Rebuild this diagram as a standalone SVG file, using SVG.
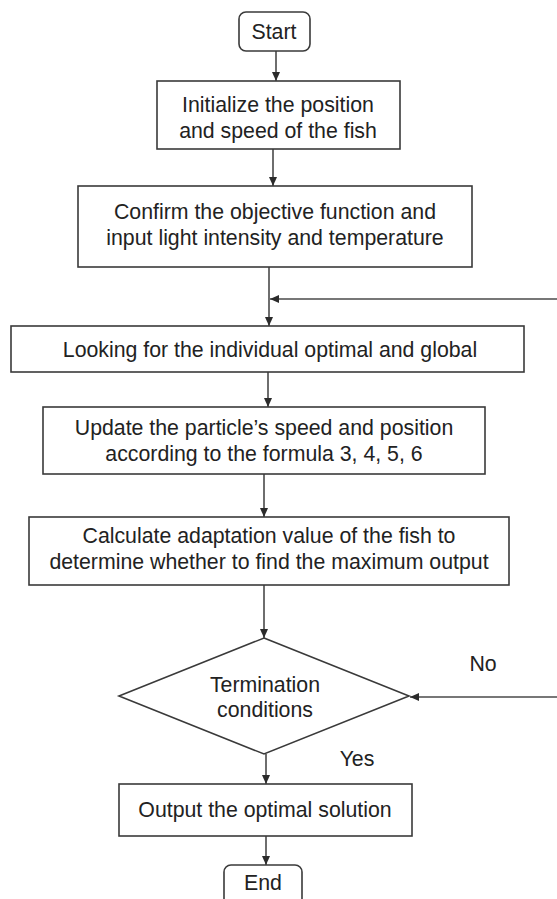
<svg xmlns="http://www.w3.org/2000/svg" width="557" height="899" viewBox="0 0 557 899">
<defs>
<marker id="ah" markerWidth="10" markerHeight="10" refX="9" refY="4" orient="auto" markerUnits="userSpaceOnUse">
<path d="M0,0 L9,4 L0,8 Z" fill="#2b2b2b"/>
</marker>
<style>
.box{fill:#fff;stroke:#3a3a3a;stroke-width:1.6}
.t{font-family:"Liberation Sans",Arial,sans-serif;font-size:21.3px;fill:#222;text-anchor:middle}
.c{stroke:#4a4a4a;stroke-width:1.6;fill:none;marker-end:url(#ah)}
</style>
</defs>
<rect width="557" height="899" fill="#fff"/>
<g id="connectors">
<line class="c" x1="276" y1="51" x2="276" y2="81"/>
<line class="c" x1="273" y1="149" x2="273" y2="186"/>
<line class="c" x1="269" y1="267" x2="269" y2="326"/>
<line class="c" x1="557" y1="299" x2="270" y2="299"/>
<line class="c" x1="268" y1="372" x2="268" y2="407"/>
<line class="c" x1="264" y1="474" x2="264" y2="517"/>
<line class="c" x1="264" y1="585" x2="264" y2="638"/>
<line class="c" x1="557" y1="697" x2="410" y2="697"/>
<line class="c" x1="266" y1="754" x2="266" y2="784"/>
<line class="c" x1="266" y1="836" x2="266" y2="865"/>
</g>
<g id="start">
<rect class="box" x="239" y="12" width="71" height="39" rx="7"/>
<text class="t" x="274" y="39">Start</text>
</g>
<g id="init">
<rect class="box" x="157" y="81" width="243" height="68"/>
<text class="t" x="278" y="112">Initialize the position</text>
<text class="t" x="278" y="138">and speed of the fish</text>
</g>
<g id="confirm">
<rect class="box" x="78" y="186" width="394" height="81"/>
<text class="t" x="275" y="219">Confirm the objective function and</text>
<text class="t" x="275" y="245">input light intensity and temperature</text>
</g>
<g id="looking">
<rect class="box" x="11" y="326" width="513" height="46"/>
<text class="t" x="270" y="357">Looking for the individual optimal and global</text>
</g>
<g id="update">
<rect class="box" x="43" y="407" width="442" height="67"/>
<text class="t" x="264" y="435">Update the particle’s speed and position</text>
<text class="t" x="264" y="461">according to the formula 3, 4, 5, 6</text>
</g>
<g id="calculate">
<rect class="box" x="29" y="517" width="480" height="68"/>
<text class="t" x="269" y="543">Calculate adaptation value of the fish to</text>
<text class="t" x="269" y="569">determine whether to find the maximum output</text>
</g>
<g id="termination">
<polygon class="box" points="264,638 409,696 264,754 119,696"/>
<text class="t" x="265" y="692">Termination</text>
<text class="t" x="265" y="717">conditions</text>
</g>
<g id="labels">
<text class="t" x="483" y="671">No</text>
<text class="t" x="357" y="766">Yes</text>
</g>
<g id="output">
<rect class="box" x="119" y="784" width="293" height="52"/>
<text class="t" x="265" y="817">Output the optimal solution</text>
</g>
<g id="end">
<rect class="box" x="224" y="865" width="78" height="44" rx="7"/>
<text class="t" x="263" y="890">End</text>
</g>
</svg>
